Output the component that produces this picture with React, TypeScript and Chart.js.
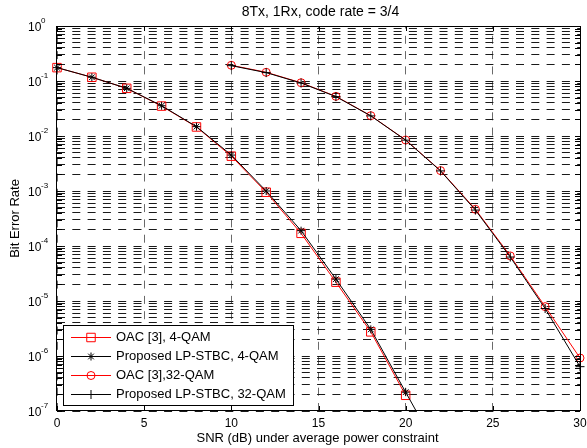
import React, { useEffect, useRef } from 'react';
import { Chart, registerables } from 'chart.js';

Chart.register(...registerables);

// ---- data ----
const snrOac4 = [0, 2, 4, 6, 8, 10, 12, 14, 16, 18, 20];
const berOac4 = [0.175, 0.117, 0.0736, 0.035, 0.0146, 0.0043, 9.5e-4, 1.7e-4, 2.2e-5, 2.75e-6, 1.93e-7];
const snrProp4 = [0, 2, 4, 6, 8, 10, 12, 14, 16, 18, 20, 22];
const berProp4 = [0.175, 0.117, 0.0736, 0.0355, 0.0148, 0.0045, 1.0e-3, 1.9e-4, 2.5e-5, 3.05e-6, 2.2e-7, 1.6e-8];
const snrOac32 = [10, 12, 14, 16, 18, 20, 22, 24, 26, 28, 30];
const berOac32 = [0.193, 0.144, 0.093, 0.0526, 0.0234, 0.00845, 0.00235, 4.65e-4, 6.6e-5, 7.9e-6, 9.2e-7];
const snrProp32 = [10, 12, 14, 16, 18, 20, 22, 24, 26, 28, 30];
const berProp32 = [0.19, 0.142, 0.092, 0.052, 0.0232, 0.0084, 0.00232, 4.5e-4, 6.3e-5, 7.3e-6, 6.4e-7];

const xTickValues = [0, 5, 10, 15, 20, 25, 30];
const yDecadeExponents = [-7, -6, -5, -4, -3, -2, -1, 0];
const yMinorMultipliers = [2, 3, 4, 5, 6, 7, 8, 9];

const titleText = '8Tx, 1Rx, code rate = 3/4';
const xTitleText = 'SNR (dB) under average power constraint';
const yTitleText = 'Bit Error Rate';
const legendLabels = [
  'OAC [3], 4-QAM',
  'Proposed LP-STBC, 4-QAM',
  'OAC [3],32-QAM',
  'Proposed LP-STBC, 32-QAM',
];

const RED = '#ff0000';
const BLACK = '#000000';
const FONT = '"Liberation Sans", Arial, Helvetica, sans-serif';

const seriesStyles = [
  { color: RED, point: 'rect', radius: 6 },
  { color: BLACK, point: 'star', radius: 4 },
  { color: RED, point: 'circle', radius: 4 },
  { color: BLACK, point: 'cross', radius: 4.5 },
];

function toPoints(xs: number[], ys: number[]) {
  return xs.map((x, i) => ({ x, y: ys[i] }));
}

function drawMarker(ctx: CanvasRenderingContext2D, style: string, r: number, x: number, y: number) {
  ctx.beginPath();
  if (style === 'rect') {
    const s = Math.SQRT1_2 * r;
    ctx.rect(x - s, y - s, 2 * s, 2 * s);
  } else if (style === 'circle') {
    ctx.arc(x, y, r, 0, Math.PI * 2);
  } else if (style === 'cross' || style === 'star') {
    ctx.moveTo(x, y - r);
    ctx.lineTo(x, y + r);
    ctx.moveTo(x - r, y);
    ctx.lineTo(x + r, y);
    if (style === 'star') {
      const d = r * Math.SQRT1_2;
      ctx.moveTo(x - d, y - d);
      ctx.lineTo(x + d, y + d);
      ctx.moveTo(x + d, y - d);
      ctx.lineTo(x - d, y + d);
    }
  }
  ctx.stroke();
}

const decorPlugin = {
  id: 'decor',
  afterDraw(chart: any) {
    const ctx: CanvasRenderingContext2D = chart.ctx;
    const { left, right, top, bottom } = chart.chartArea;
    const xs = chart.scales.x;
    const ys = chart.scales.y;
    ctx.save();

    // plot box
    ctx.strokeStyle = BLACK;
    ctx.lineWidth = 1;
    ctx.setLineDash([]);
    ctx.strokeRect(Math.round(left) - 0.5, Math.round(top) + 0.5, Math.round(right - left) + 1, Math.round(bottom - top) - 1);

    // inner ticks
    ctx.beginPath();
    xs.ticks.forEach((t: any) => {
      const px = Math.round(xs.getPixelForValue(t.value)) + 0.5;
      ctx.moveTo(px, bottom);
      ctx.lineTo(px, bottom - 5);
      ctx.moveTo(px, top);
      ctx.lineTo(px, top + 5);
    });
    ys.ticks.forEach((t: any) => {
      const py = Math.round(ys.getPixelForValue(t.value)) + 0.5;
      ctx.moveTo(left, py);
      ctx.lineTo(left + 5, py);
      ctx.moveTo(right, py);
      ctx.lineTo(right - 5, py);
    });
    ctx.stroke();

    // x tick labels
    ctx.fillStyle = BLACK;
    ctx.font = `12px ${FONT}`;
    ctx.textAlign = 'center';
    ctx.textBaseline = 'alphabetic';
    xs.ticks.forEach((t: any) => {
      const px = xs.getPixelForValue(t.value);
      ctx.fillText(String(t.value), px, 427);
    });

    // y tick labels (10 with superscript exponent)
    ys.ticks.forEach((t: any) => {
      const e = Math.log10(t.value);
      if (Math.abs(e - Math.round(e)) > 1e-9) return;
      const py = ys.getPixelForValue(t.value);
      ctx.textAlign = 'left';
      ctx.font = `12px ${FONT}`;
      ctx.fillText('10', 28, py + 4.5);
      ctx.font = `8px ${FONT}`;
      ctx.fillText(String(Math.round(e)), 41, py - 3.5);
    });

    // titles
    ctx.textAlign = 'center';
    ctx.font = `14px ${FONT}`;
    ctx.fillText(titleText, (left + right) / 2 + 2, 15.5);
    ctx.font = `13px ${FONT}`;
    ctx.fillText(xTitleText, (left + right) / 2 - 1, 442);
    ctx.save();
    ctx.translate(19, (top + bottom) / 2);
    ctx.rotate(-Math.PI / 2);
    ctx.fillText(yTitleText, 0, 0);
    ctx.restore();

    // legend
    const lx = 63.5, ly = 325.5, lw = 230, lh = 80;
    ctx.fillStyle = '#ffffff';
    ctx.fillRect(lx, ly, lw, lh);
    ctx.strokeStyle = BLACK;
    ctx.strokeRect(lx, ly, lw, lh);
    legendLabels.forEach((label, i) => {
      const st = seriesStyles[i];
      const ry = 337 + i * 19;
      ctx.strokeStyle = st.color;
      ctx.lineWidth = 1;
      ctx.beginPath();
      ctx.moveTo(71, ry + 0.5);
      ctx.lineTo(111, ry + 0.5);
      ctx.stroke();
      drawMarker(ctx, st.point, st.radius, 91, ry + 0.5);
      ctx.fillStyle = BLACK;
      ctx.font = `13px ${FONT}`;
      ctx.textAlign = 'left';
      ctx.textBaseline = 'middle';
      ctx.fillText(label, 116, ry + 0.5);
    });

    ctx.restore();
  },
};

export default function App() {
  const ref = useRef<HTMLCanvasElement | null>(null);

  useEffect(() => {
    if (!ref.current) return;
    const mk = (label: string, xs: number[], ys: number[], idx: number, order: number) => {
      const st = seriesStyles[idx];
      return {
        label,
        data: toPoints(xs, ys),
        borderColor: st.color,
        borderWidth: 1,
        pointStyle: st.point,
        pointRadius: st.radius,
        pointBorderColor: st.color,
        pointBackgroundColor: 'rgba(0,0,0,0)',
        pointBorderWidth: 1,
        fill: false,
        tension: 0,
        order,
        clip: { left: 10, right: 10, top: 10, bottom: 0 },
      };
    };
    const chart = new Chart(ref.current, {
      type: 'line',
      data: {
        datasets: [
          mk(legendLabels[0], snrOac4, berOac4, 0, 1),
          mk(legendLabels[1], snrProp4, berProp4, 1, 0),
          mk(legendLabels[2], snrOac32, berOac32, 2, 1),
          mk(legendLabels[3], snrProp32, berProp32, 3, 0),
        ] as any,
      },
      options: {
        animation: false,
        responsive: false,
        maintainAspectRatio: false,
        layout: { padding: { top: 26, right: 7, left: 0, bottom: 0 } },
        plugins: {
          legend: { display: false },
          title: { display: false },
          tooltip: { enabled: false },
        },
        scales: {
          x: {
            type: 'linear',
            min: 0,
            max: 30,
            afterBuildTicks: (scale: any) => {
              scale.ticks = xTickValues.map((v) => ({ value: v }));
            },
            afterFit: (scale: any) => {
              scale.height = 37;
            },
            ticks: { display: false },
            grid: { color: '#6a6a6a', lineWidth: 1, drawTicks: false },
            border: { display: false, dash: [8, 7.3], dashOffset: 5.5 },
          },
          y: {
            type: 'logarithmic',
            min: 1e-7,
            max: 1,
            afterBuildTicks: (scale: any) => {
              const t: { value: number }[] = [];
              yDecadeExponents.forEach((e) => {
                t.push({ value: Math.pow(10, e) });
                if (e < 0) yMinorMultipliers.forEach((m) => t.push({ value: m * Math.pow(10, e) }));
              });
              scale.ticks = t.sort((a, b) => a.value - b.value);
            },
            afterFit: (scale: any) => {
              scale.width = 57;
            },
            ticks: { display: false, autoSkip: false },
            grid: { color: '#1a1a1a', lineWidth: 1, drawTicks: false },
            border: { display: false, dash: [8, 7.3] },
          },
        },
      } as any,
      plugins: [decorPlugin],
    });
    return () => chart.destroy();
  }, []);

  return (
    <div style={{ position: 'fixed', left: 0, top: 0, width: 587, height: 448, background: '#fff' }}>
      <canvas ref={ref} width={587} height={448} style={{ display: 'block', width: 587, height: 448 }} />
    </div>
  );
}
